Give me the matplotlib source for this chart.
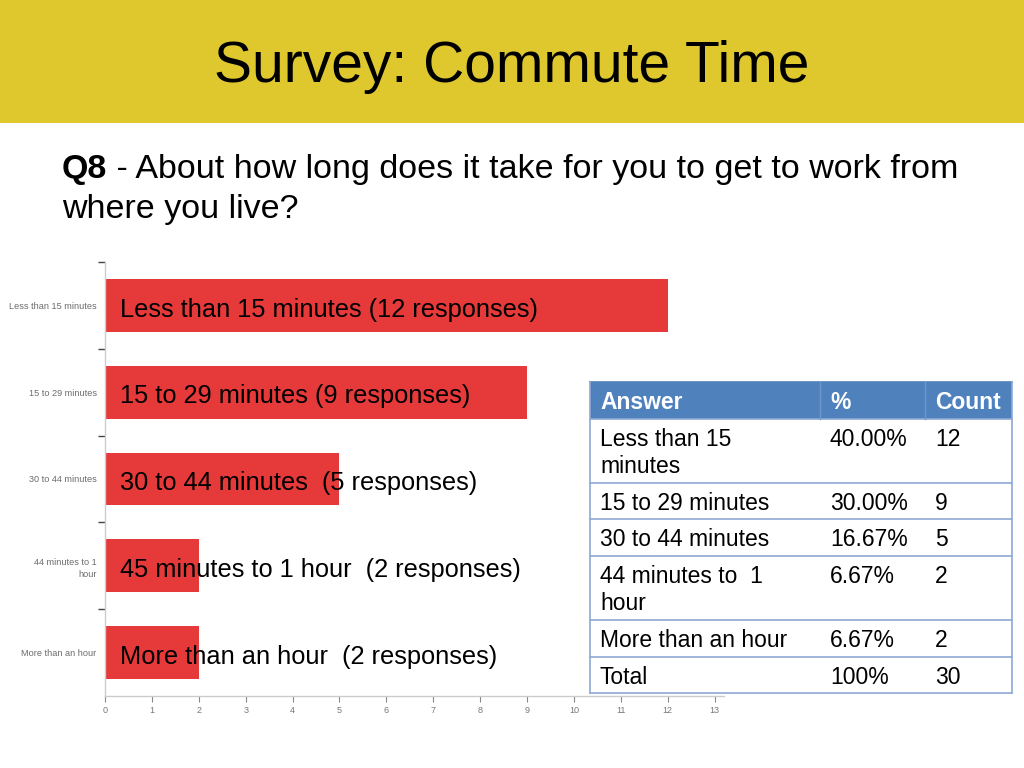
import matplotlib
matplotlib.use("Agg")
import matplotlib.pyplot as plt
from matplotlib.patches import Rectangle
from matplotlib.lines import Line2D

# ---------------- data ----------------
categories = ["Less than 15 minutes", "15 to 29 minutes", "30 to 44 minutes",
              "44 minutes to 1\nhour", "More than an hour"]
counts = [12, 9, 5, 2, 2]
bar_labels = ["Less than 15 minutes (12 responses)", "15 to 29 minutes (9 responses)",
              "30 to 44 minutes  (5 responses)", "45 minutes to 1 hour  (2 responses)",
              "More than an hour  (2 responses)"]
x_ticks = list(range(0, 14))

table_header = ["Answer", "%", "Count"]
table_answers = [["Less than 15", "minutes"], ["15 to 29 minutes"], ["30 to 44 minutes"],
                 ["44 minutes to  1", "hour"], ["More than an hour"], ["Total"]]
table_pct = ["40.00%", "30.00%", "16.67%", "6.67%", "6.67%", "100%"]
table_count = ["12", "9", "5", "2", "2", "30"]

title = "Survey: Commute Time"
q_bold = "Q8"
q_line1 = " - About how long does it take for you to get to work from"
q_line2 = "where you live?"

# ---------------- figure ----------------
W, H = 1024, 768
plt.rcParams['font.family'] = ['Liberation Sans', 'DejaVu Sans']
fig = plt.figure(figsize=(W / 100, H / 100), dpi=100)
fig.patch.set_facecolor("white")

def fx(px):
    return px / W

def fy(py):
    return 1 - py / H

# yellow header band
fig.patches.append(Rectangle((0, fy(123)), 1, 123 / H, transform=fig.transFigure,
                             facecolor="#DEC82E", edgecolor="none", zorder=0))
fig.text(fx(512), fy(82), title, fontsize=41, ha="center", va="baseline", color="black")

# question text
qfs = 24.5
t = fig.text(fx(62), fy(178), q_bold, fontsize=qfs, fontweight="bold", ha="left", va="baseline")
fig.canvas.draw()
bb = t.get_window_extent(renderer=fig.canvas.get_renderer())
fig.text(bb.x1 / W, fy(178), q_line1, fontsize=qfs, ha="left", va="baseline")
fig.text(fx(62), fy(218), q_line2, fontsize=qfs, ha="left", va="baseline")

# ---------------- bar chart ----------------
ax = fig.add_axes([fx(105), fy(696), fx(724) - fx(105), (696 - 262) / H])
ypos = list(range(len(categories)))
ax.barh(ypos, counts, height=0.61, color="#E63A3A", zorder=2)
ax.set_xlim(0, 13.2)
ax.set_ylim(len(categories) - 0.5, -0.5)
ax.set_xticks(x_ticks)
ax.set_xticklabels([str(v) for v in x_ticks])
ax.set_yticks(ypos)
ax.set_yticklabels(categories, linespacing=1.5)
ax.set_yticks([i - 0.5 for i in range(len(categories))], minor=True)
ax.tick_params(axis="y", which="major", length=0, pad=6, labelsize=6.6, labelcolor="#6b6b6b")
ax.tick_params(axis="y", which="minor", length=5, width=1, color="#444444")
ax.tick_params(axis="x", which="major", length=4, width=0.8, color="#888888",
               labelsize=6.5, labelcolor="#777777", pad=3)
for s in ["top", "right"]:
    ax.spines[s].set_visible(False)
for s in ["left", "bottom"]:
    ax.spines[s].set_color("#cccccc")
    ax.spines[s].set_linewidth(1)

for i, lab in enumerate(bar_labels):
    ax.annotate(lab, xy=(0, i), xytext=(11, -8), textcoords="offset points",
                ha="left", va="baseline", fontsize=18.3, color="black", zorder=3)

# ---------------- table ----------------
tl, tr = 590, 1012
cols = [590, 820, 925, 1012]
rows = [382, 419, 483, 519, 556, 620, 657, 693]
line_col = "#8DA9D4"

# white background
fig.patches.append(Rectangle((fx(tl), fy(rows[-1])), (tr - tl) / W, (rows[-1] - rows[0]) / H,
                             transform=fig.transFigure, facecolor="white",
                             edgecolor="none", zorder=5))
# header background
fig.patches.append(Rectangle((fx(tl), fy(rows[1])), (tr - tl) / W, (rows[1] - rows[0]) / H,
                             transform=fig.transFigure, facecolor="#4F81BD",
                             edgecolor="none", zorder=6))

def hline(y, x0=tl, x1=tr, color=line_col, lw=1.2):
    fig.lines.append(Line2D([fx(x0), fx(x1)], [fy(y), fy(y)], transform=fig.transFigure,
                            color=color, lw=lw, zorder=7))

def vline(x, y0, y1, color=line_col, lw=1.2):
    fig.lines.append(Line2D([fx(x), fx(x)], [fy(y0), fy(y1)], transform=fig.transFigure,
                            color=color, lw=lw, zorder=7))

for r in rows[1:]:
    hline(r)
hline(rows[0], color="#4F81BD")
vline(tl, rows[0], rows[-1])
vline(tr, rows[0], rows[-1])
for c in cols[1:3]:
    vline(c, rows[0], rows[1], color="#6F97CB", lw=1)

fs = 16.5
text_x = [600, 830, 935]
for j, h in enumerate(table_header):
    fig.text(fx(text_x[j]), fy(rows[0] + 27), h, fontsize=fs, fontweight="bold",
             color="white", ha="left", va="baseline", zorder=8)

for i in range(len(table_answers)):
    base = rows[i + 1] + 27
    for k, line in enumerate(table_answers[i]):
        fig.text(fx(text_x[0]), fy(base + 27 * k), line, fontsize=fs, color="black",
                 ha="left", va="baseline", zorder=8)
    fig.text(fx(text_x[1]), fy(base), table_pct[i], fontsize=fs, color="black",
             ha="left", va="baseline", zorder=8)
    fig.text(fx(text_x[2]), fy(base), table_count[i], fontsize=fs, color="black",
             ha="left", va="baseline", zorder=8)

fig.savefig("out.png", dpi=100, facecolor="white")
